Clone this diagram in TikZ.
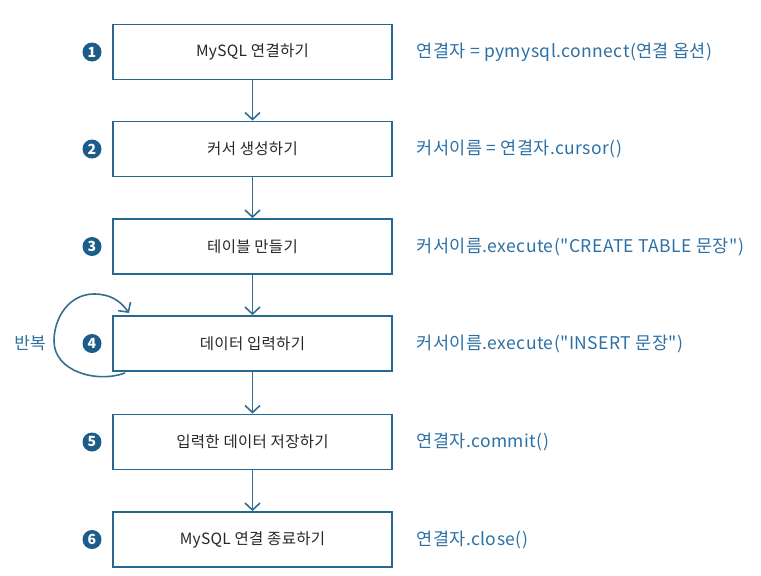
\documentclass[tikz,border=0pt]{standalone}
\usepackage{fontspec}
\setmainfont{Noto Sans CJK KR}
\newfontfamily\codefont{Noto Sans CJK KR}[LetterSpace=2.5]
\newfontfamily\boxfont{Noto Sans CJK KR}[LetterSpace=2]
\usetikzlibrary{arrows.meta}
\definecolor{boxc}{RGB}{40,104,144}
\definecolor{codec}{RGB}{44,112,164}
\definecolor{numc}{RGB}{28,92,136}
\definecolor{linec}{RGB}{52,110,145}
\begin{document}
\begin{tikzpicture}[x=1pt,y=-1pt,
  stepbox/.style={draw=boxc, line width=1.8pt, minimum width=279pt, minimum height=55pt, inner sep=0pt, text=black!85, font=\boxfont\fontsize{15.5}{17}\selectfont},
  num/.style={circle, fill=numc, text=white, inner sep=0pt, minimum size=19pt, font=\bfseries\fontsize{14}{14}\selectfont},
  code/.style={anchor=west, text=codec, font=\codefont\fontsize{17.5}{19}\selectfont},
  flow/.style={draw=linec, line width=1.6pt, -{Straight Barb[length=7pt,width=15pt,line width=1.6pt]}}]
\useasboundingbox (0,0) rectangle (761,576);
\node[stepbox] (b1) at (252.5,52) {MySQL 연결하기};
\node[stepbox] (b2) at (252.5,149) {커서 생성하기};
\node[stepbox] (b3) at (252.5,246.5) {테이블 만들기};
\node[stepbox] (b4) at (252.5,343.5) {데이터 입력하기};
\node[stepbox] (b5) at (252.5,442) {입력한 데이터 저장하기};
\node[stepbox] (b6) at (252.5,539.5) {MySQL 연결 종료하기};
\foreach \i/\y in {1/52,2/149,3/246.5,4/343.5,5/442,6/539.5}
  \node[num] (n\i) at (92,\y) {\i};
\node[code] (c1) at (413,52) {연결자 = pymysql.connect(연결 옵션)};
\node[code] (c2) at (413,149) {커서이름 = 연결자.cursor()};
\node[code] (c3) at (413,246.5) {커서이름.execute("CREATE TABLE 문장")};
\node[code] (c4) at (413,343.5) {커서이름.execute("INSERT 문장")};
\node[code] (c5) at (413,442) {연결자.commit()};
\node[code] (c6) at (413,539.5) {연결자.close()};
\draw[flow] (b1) -- (b2);
\draw[flow] (b2) -- (b3);
\draw[flow] (b3) -- (b4);
\draw[flow] (b4) -- (b5);
\draw[flow] (b5) -- (b6);
\coordinate (ls) at (125,373);
\coordinate (lm) at (54,341);
\coordinate (lt) at (94,294);
\coordinate (le) at (129,313);
\draw[flow] (ls) to[out=200,in=270] (lm) to[out=90,in=180] (lt) to[out=0,in=125] (le);
\node[text=codec, font=\fontsize{17}{19}\selectfont] (rep) at (30,343) {반복};
\end{tikzpicture}
\end{document}
